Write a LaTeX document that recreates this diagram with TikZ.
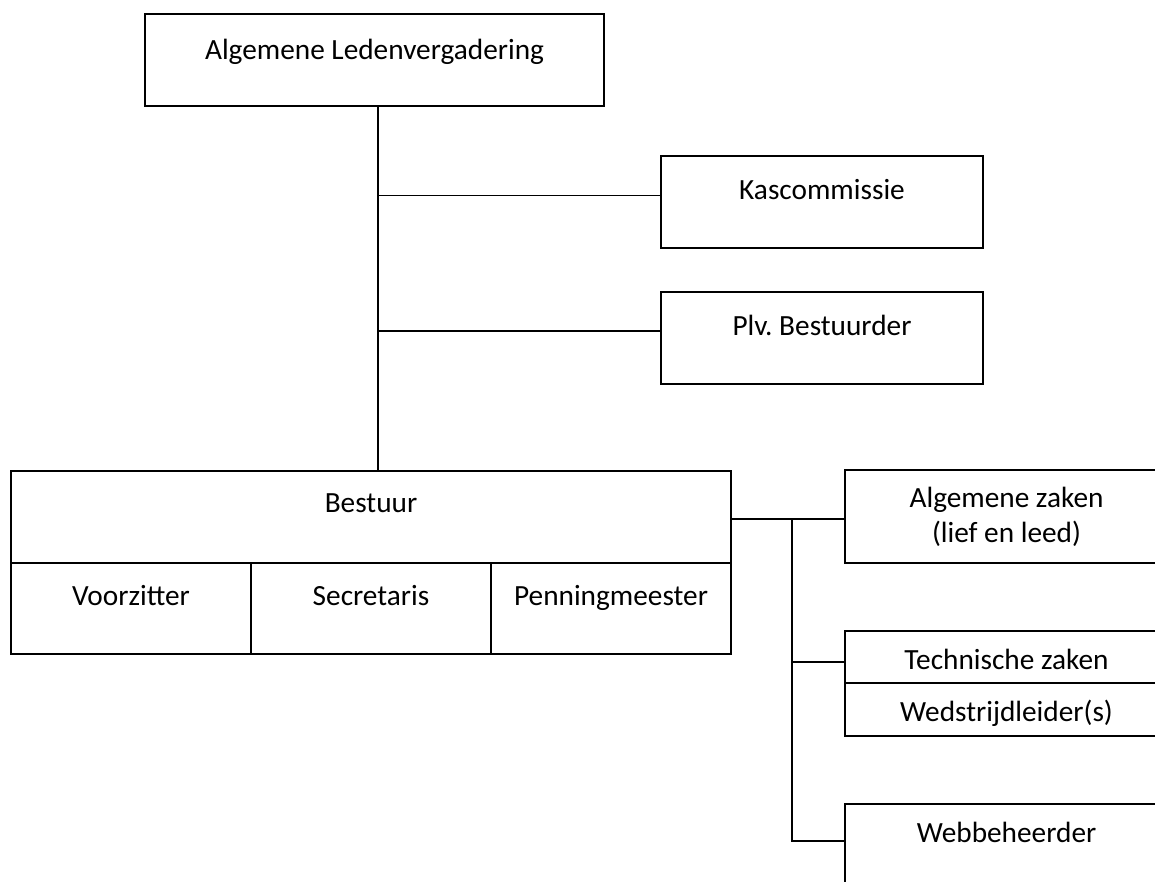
\documentclass[tikz,border=0pt]{standalone}
\usepackage{fontspec}
\setmainfont{Carlito}
\usetikzlibrary{calc}
\frenchspacing

\begin{document}
\begin{tikzpicture}[
  x=1pt,y=-1pt,font=\fontsize{29.3}{35.3}\selectfont,
  frame/.style={rectangle,draw,line width=1.5pt,inner sep=0pt,outer sep=0pt,
              anchor=north west,align=center},
  box/.style 2 args={frame,text height=#1,text depth=#2},
  ln/.style={line width=1.5pt}
]
\useasboundingbox (0,0) rectangle (1155,881);
\clip (0,0) rectangle (1155,881);

%======================= TOP : LEDENVERGADERING =======================
\node[box={45pt}{47pt},minimum width=459pt] (alv) at (145,14) {Algemene Ledenvergadering};

%======================= COMMISSIES =======================
\node[box={43pt}{49pt},minimum width=322pt] (kas) at (661,156) {Kascommissie};
\node[box={43pt}{49pt},minimum width=322pt] (plv) at (661,292) {Plv. Bestuurder};

%======================= BESTUUR =======================
\node[box={41pt}{51pt},minimum width=720pt] (bst) at (11,471) {Bestuur};
\node[box={42pt}{49pt},minimum width=240pt] (b1) at (bst.south west) {Voorzitter};
\node[box={42pt}{49pt},minimum width=240pt] (b2) at (b1.north east) {Secretaris};
\node[box={42pt}{49pt},minimum width=240pt] (b3) at (b2.north east) {Penningmeester};

%======================= ZAKEN (right column) =======================
\node[frame,minimum width=323pt,minimum height=93pt] (az) at (845,470) {Algemene zaken\\(lief en leed)};
\node[box={38pt}{14pt},minimum width=323pt] (tz) at (845,631) {Technische zaken};
\node[box={38.5pt}{14.5pt},minimum width=323pt] (wl) at (tz.south west) {Wedstrijdleider(s)};
\node[box={38.5pt}{55pt},minimum width=323pt] (wb) at (845,804) {Webbeheerder};

%======================= CONNECTORS =======================
\coordinate (trunk) at (378,0);
\coordinate (branch) at (792,0);
\draw[ln] (alv.south -| trunk) -- (bst.north -| trunk);
\draw[ln] ([yshift=6.3pt]kas.west -| trunk) -- ([yshift=6.3pt]kas.west);
\draw[ln] ([yshift=7pt]plv.west -| trunk) -- ([yshift=7pt]plv.west);
\draw[ln] ([yshift=-2pt]bst.east) -- ([yshift=-2pt]bst.east -| az.west);
\draw[ln] ([yshift=-2pt]bst.east -| branch) |- ([yshift=-5pt]tz.west);
\draw[ln] ([yshift=-5pt]tz.west -| branch) |- ([yshift=9.75pt]wb.west);

\end{tikzpicture}
\end{document}
